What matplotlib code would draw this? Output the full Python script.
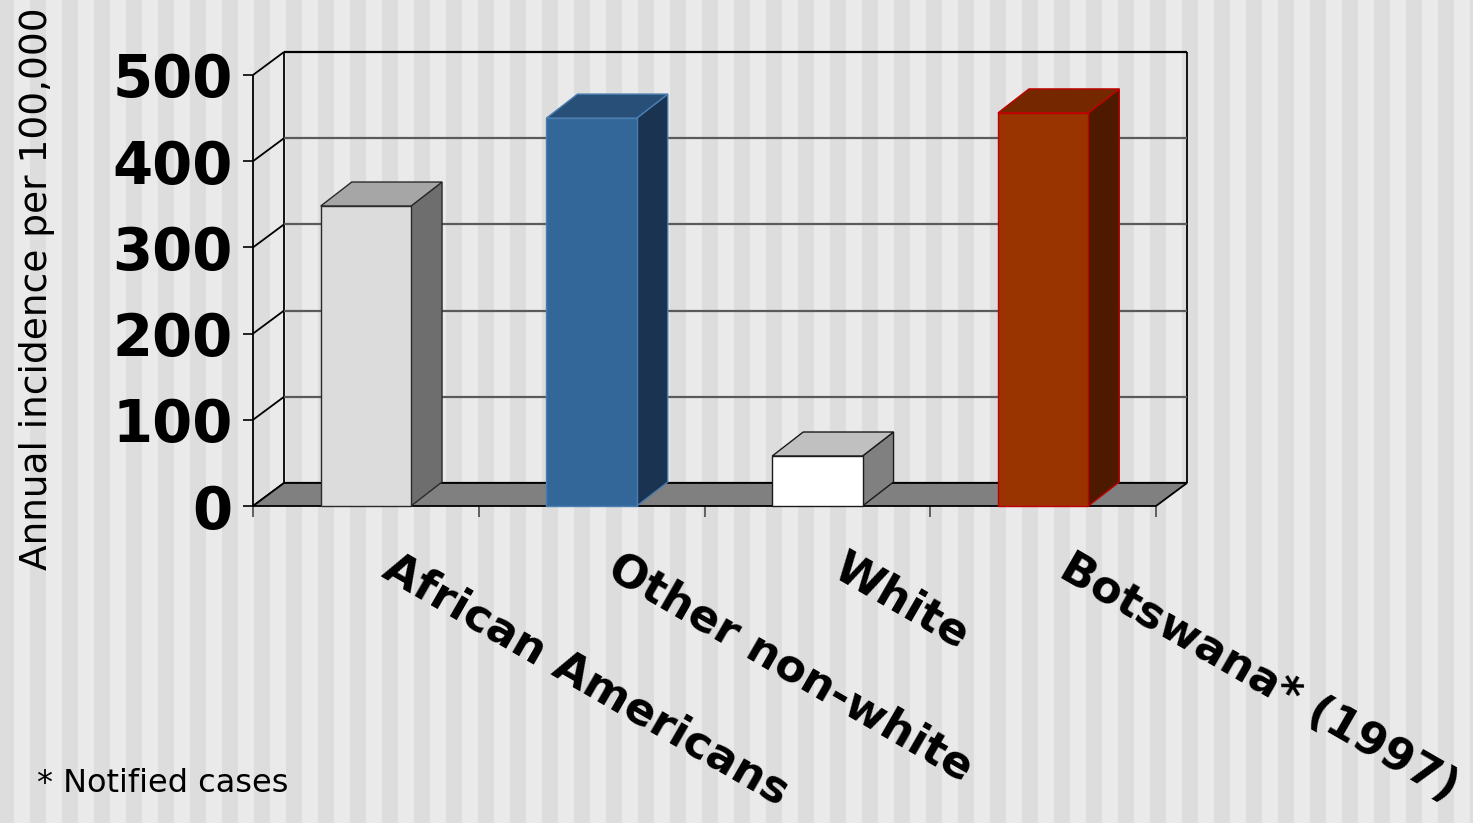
import numpy as np
import matplotlib
matplotlib.use('Agg')
import matplotlib.pyplot as plt
from matplotlib.patches import Polygon
from matplotlib.transforms import offset_copy

# ---- data ----
categories = ["African Americans", "Other non-white", "White", "Botswana* (1997)"]
values = [348, 450, 58, 456]
yticks = [0, 100, 200, 300, 400, 500]
ytick_labels = ["0", "100", "200", "300", "400", "500"]

# ---- styles ----
front_colors = ["#dcdcdc", "#336699", "#ffffff", "#993300"]
top_colors = ["#a6a6a6", "#284f78", "#c0c0c0", "#752800"]
side_colors = ["#6e6e6e", "#1a3350", "#808080", "#4d1a00"]
edge_colors = ["#2a2a2a", "#4a7db0", "#1a1a1a", "#c00000"]

W, H = 1473, 823
fig = plt.figure(figsize=(W / 100, H / 100), dpi=100)
fig.patch.set_facecolor('#eaeaea')

# striped background
bg = fig.add_axes([0, 0, 1, 1], zorder=0)
bg.set_xlim(0, W)
bg.set_ylim(0, H)
bg.axis('off')
for x0 in np.arange(-2, W, 32):
    bg.axvspan(x0, x0 + 16, color='#dddddd', lw=0)

# main axes = front plane of the 3-D box
ax = fig.add_axes([253 / W, (H - 506) / H, (1156 - 253) / W, (506 - 75) / H], zorder=1)
ax.patch.set_alpha(0)
n = len(categories)
ax.set_xlim(-0.5, n - 0.5)
ax.set_ylim(0, 500)
for s in ax.spines.values():
    s.set_visible(False)

bbox = ax.get_window_extent()
px_x = bbox.width / n
px_y = bbox.height / 500
wdx, wdy = 31 / px_x, 23 / px_y      # wall depth
bdx, bdy = 31 / px_x, 24 / px_y      # bar depth

x0, x1 = -0.5, n - 0.5
lw = 1.3
kw = dict(clip_on=False, solid_capstyle='butt')
# walls and gridlines
ax.plot([x0, x0], [0, 500], color='k', lw=lw, zorder=2, **kw)
ax.plot([x0 + wdx] * 2, [wdy, 500 + wdy], color='k', lw=lw, zorder=2, **kw)
ax.plot([x1 + wdx] * 2, [wdy, 500 + wdy], color='k', lw=lw, zorder=2, **kw)
for v in yticks:
    ax.plot([x0, x0 + wdx], [v, v + wdy], color='k', lw=lw, zorder=2, **kw)
    ax.plot([x0 + wdx, x1 + wdx], [v + wdy] * 2,
            color='k' if v in (0, 500) else '#5a5a5a', lw=lw + 0.3, zorder=2, **kw)

# floor
floor = Polygon([(x0, 0), (x1, 0), (x1 + wdx, wdy), (x0 + wdx, wdy)],
                closed=True, facecolor='#808080', edgecolor='k', lw=lw, zorder=3, clip_on=False)
ax.add_patch(floor)

# bars
bw = 0.4
for i, v in enumerate(values):
    xl, xr = i - bw / 2, i + bw / 2
    side = Polygon([(xr, 0), (xr + bdx, bdy), (xr + bdx, v + bdy), (xr, v)], closed=True,
                   facecolor=side_colors[i], edgecolor=edge_colors[i], lw=1.0, zorder=4, clip_on=False)
    top = Polygon([(xl, v), (xr, v), (xr + bdx, v + bdy), (xl + bdx, v + bdy)], closed=True,
                  facecolor=top_colors[i], edgecolor=edge_colors[i], lw=1.0, zorder=4, clip_on=False)
    ax.add_patch(side)
    ax.add_patch(top)
    ax.bar(i, v, bw, color=front_colors[i], edgecolor=edge_colors[i], lw=1.0, zorder=5, clip_on=False)

# ticks
ax.set_yticks(yticks)
ax.set_yticklabels(ytick_labels, fontsize=41.5, fontweight='bold')
ax.tick_params(axis='y', length=7.2, width=1.2, color='k', pad=7.5)
ax.set_xticks(np.arange(-0.5, n, 1))
ax.set_xticklabels([])
ax.tick_params(axis='x', length=8, width=1.3, color='#555555')

# category labels
lab_tr = offset_copy(ax.transData, fig=fig, x=31, y=-40, units='dots')
for i, c in enumerate(categories):
    ax.text(i, 0, c, transform=lab_tr, rotation=-30, rotation_mode='anchor',
            ha='left', va='top', fontsize=32.3, fontweight='bold', clip_on=False, zorder=6)

fig.text(37 / W, 1 - 289 / H, 'Annual incidence per 100,000', rotation=90,
         ha='center', va='center', fontsize=27)
fig.text(37 / W, (H - 792) / H, '* Notified cases', fontsize=23, va='baseline')

fig.savefig('out.png', dpi=100, facecolor=fig.get_facecolor())
